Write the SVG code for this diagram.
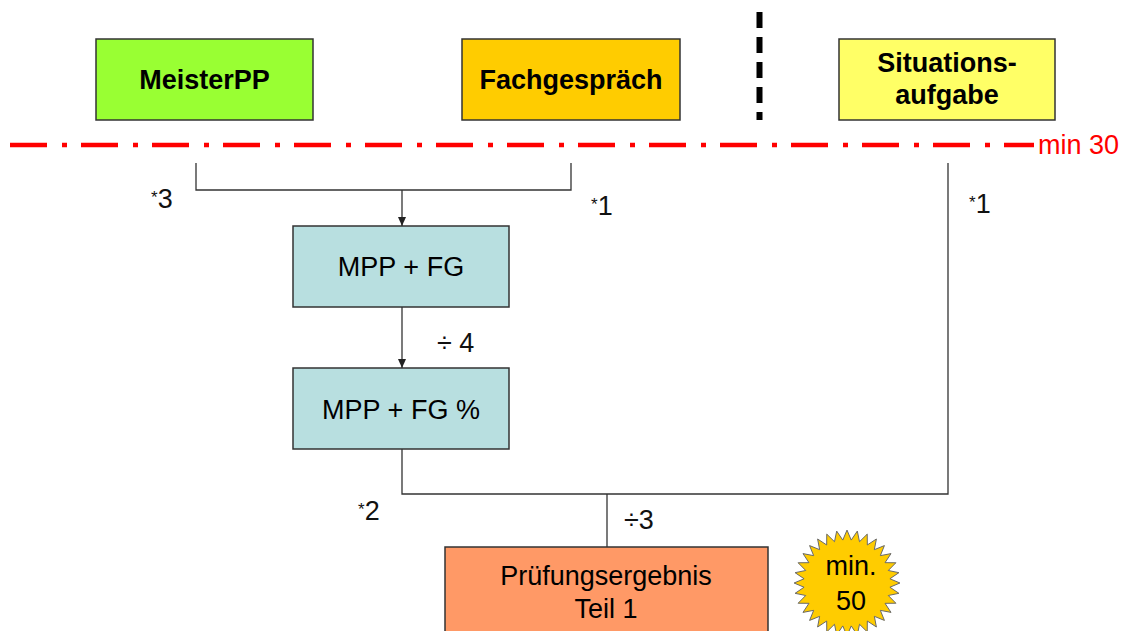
<svg xmlns="http://www.w3.org/2000/svg" width="1131" height="631" viewBox="0 0 1131 631">
<style>
.box{stroke:#333;stroke-width:1.5}
.t{font-family:"Liberation Sans",Arial,sans-serif;font-size:27px;fill:#000;text-anchor:middle}
.b{font-weight:bold}
.lbl{font-family:"Liberation Sans",Arial,sans-serif;font-size:27px;fill:#111}
.ast{font-size:17px}
.c{stroke:#333;stroke-width:1.3;fill:none}
</style>
<defs>
<marker id="ah" markerWidth="9" markerHeight="8" refX="9" refY="4" orient="auto" markerUnits="userSpaceOnUse" viewBox="0 0 9 8">
<path d="M0,0 L9,4 L0,8 Z" fill="#222"/>
</marker>
</defs>
<rect width="1131" height="631" fill="#fff"/>
<g id="sep-lines">
<line x1="759.5" y1="12" x2="759.5" y2="120" stroke="#000" stroke-width="6" stroke-dasharray="16 9"/>
<line x1="10" y1="145" x2="1034" y2="145" stroke="#ff0000" stroke-width="4.5" stroke-dasharray="37 15 5 14"/>
<text x="1038" y="154" class="lbl" style="fill:#ff0000">min 30</text>
</g>
<g id="node-meisterpp">
<rect x="96" y="39" width="217" height="81" fill="#99ff33" class="box"/>
<text x="204.5" y="89" class="t b">MeisterPP</text>
</g>
<g id="node-fachgespraech">
<rect x="462" y="39" width="218" height="81" fill="#ffcc00" class="box"/>
<text x="571" y="89" class="t b">Fachgespräch</text>
</g>
<g id="node-situationsaufgabe">
<rect x="839" y="39" width="216" height="81" fill="#ffff66" class="box"/>
<text x="947" y="72" class="t b">Situations-</text>
<text x="947" y="104" class="t b">aufgabe</text>
</g>
<g id="node-mppfg">
<rect x="293" y="226" width="216" height="81" fill="#b8dfe0" class="box"/>
<text x="401" y="276" class="t">MPP + FG</text>
</g>
<g id="node-mppfgpct">
<rect x="293" y="368" width="216" height="81" fill="#b8dfe0" class="box"/>
<text x="401" y="419" class="t">MPP + FG %</text>
</g>
<g id="node-ergebnis">
<rect x="445" y="547" width="323" height="100" fill="#ff9966" class="box"/>
<text x="606" y="585" class="t">Prüfungsergebnis</text>
<text x="606" y="618" class="t">Teil 1</text>
</g>
<g id="node-min50">
<polygon fill="#ffcc00" stroke="#666" stroke-width="1" transform="translate(847 583) scale(0.98) translate(-850 -584)" points="850,530 854.31,540.21 860.53,531.04 862.77,541.89 870.66,534.11 870.74,545.20 880,539.10 877.91,549.99 888.18,545.82 884.01,556.09 894.90,554 888.80,563.26 899.89,563.34 892.11,571.23 902.96,573.47 893.79,579.69 904,584 893.79,588.31 902.96,594.53 892.11,596.77 899.89,604.66 888.80,604.74 894.90,614 884.01,611.91 888.18,622.18 877.91,618.01 880,628.90 870.74,622.80 870.66,633.89 862.77,626.11 860.53,636.96 854.31,627.79 850,638 845.69,627.79 839.47,636.96 837.23,626.11 829.34,633.89 829.26,622.80 820,628.90 822.09,618.01 811.82,622.18 815.99,611.91 805.10,614 811.20,604.74 800.11,604.66 807.89,596.77 797.04,594.53 806.21,588.31 796,584 806.21,579.69 797.04,573.47 807.89,571.23 800.11,563.34 811.20,563.26 805.10,554 815.99,556.09 811.82,545.82 822.09,549.99 820,539.10 829.26,545.20 829.34,534.11 837.23,541.89 839.47,531.04 845.69,540.21"/>
<text x="851" y="575" class="t">min.</text>
<text x="851" y="610" class="t">50</text>
</g>
<g id="connectors">
<polyline class="c" points="196,163 196,190 571,190 571,163"/>
<line class="c" x1="402" y1="190" x2="402" y2="226" marker-end="url(#ah)"/>
<line class="c" x1="402" y1="307" x2="402" y2="368" marker-end="url(#ah)"/>
<polyline class="c" points="402,449 402,494 948,494 948,163"/>
<line class="c" x1="607" y1="494" x2="607" y2="547"/>
<text x="151" y="208" class="lbl"><tspan class="ast" dy="-5">*</tspan><tspan dy="5">3</tspan></text>
<text x="591" y="215" class="lbl"><tspan class="ast" dy="-5">*</tspan><tspan dy="5">1</tspan></text>
<text x="969" y="213" class="lbl"><tspan class="ast" dy="-5">*</tspan><tspan dy="5">1</tspan></text>
<text x="437" y="352" class="lbl">÷ 4</text>
<text x="358" y="520" class="lbl"><tspan class="ast" dy="-5">*</tspan><tspan dy="5">2</tspan></text>
<text x="624" y="529" class="lbl">÷3</text>
</g>
</svg>
